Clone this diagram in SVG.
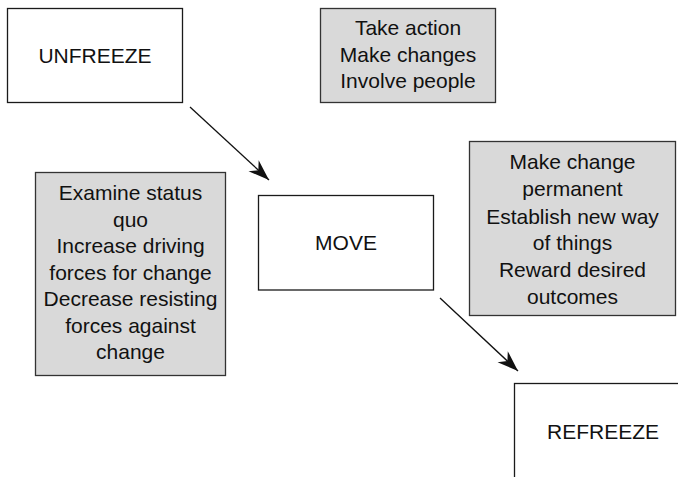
<svg xmlns="http://www.w3.org/2000/svg" width="678" height="477" viewBox="0 0 678 477">
<style>
.box{fill:#ffffff;stroke:#1a1a1a;stroke-width:1.3}
.note{fill:#d9d9d9;stroke:#333333;stroke-width:1.3}
text{font-family:"Liberation Sans",Arial,sans-serif;font-size:21px;fill:#111111;text-anchor:middle}
.conn{stroke:#111111;stroke-width:1.3;fill:none}
</style>
<defs>
<marker id="arr" markerUnits="userSpaceOnUse" markerWidth="26" markerHeight="18" viewBox="-22 -9 24 18" refX="0" refY="0" orient="auto">
<path d="M0,0 L-21,-7.5 L-14.5,0 L-21,7.5 Z" fill="#111111"/>
</marker>
</defs>
<rect width="678" height="477" fill="#ffffff"/>
<g id="unfreeze">
<rect class="box" x="7.5" y="8.5" width="175" height="94"/>
<text x="95" y="63">UNFREEZE</text>
</g>
<g id="move-notes">
<rect class="note" x="320.5" y="8.5" width="175" height="94"/>
<text x="408" y="35">Take action</text>
<text x="408" y="61.5">Make changes</text>
<text x="408" y="88">Involve people</text>
</g>
<g id="unfreeze-notes">
<rect class="note" x="35.5" y="172.5" width="190" height="203"/>
<text x="130.5" y="200">Examine status</text>
<text x="130.5" y="226.5">quo</text>
<text x="130.5" y="253">Increase driving</text>
<text x="130.5" y="279.5">forces for change</text>
<text x="130.5" y="306">Decrease resisting</text>
<text x="130.5" y="332.5">forces against</text>
<text x="130.5" y="359">change</text>
</g>
<g id="move">
<rect class="box" x="258.5" y="195.5" width="175" height="94.5"/>
<text x="346" y="250">MOVE</text>
</g>
<g id="refreeze-notes">
<rect class="note" x="469.5" y="141.5" width="206" height="174"/>
<text x="572.5" y="169">Make change</text>
<text x="572.5" y="196">permanent</text>
<text x="572.5" y="223.5">Establish new way</text>
<text x="572.5" y="250">of things</text>
<text x="572.5" y="277">Reward desired</text>
<text x="572.5" y="303.5">outcomes</text>
</g>
<g id="refreeze">
<rect class="box" x="514.5" y="383.5" width="177" height="120"/>
<text x="603" y="439">REFREEZE</text>
</g>
<g id="connectors">
<line class="conn" x1="190" y1="107" x2="269" y2="180" marker-end="url(#arr)"/>
<line class="conn" x1="440" y1="298" x2="518" y2="371" marker-end="url(#arr)"/>
</g>
</svg>
